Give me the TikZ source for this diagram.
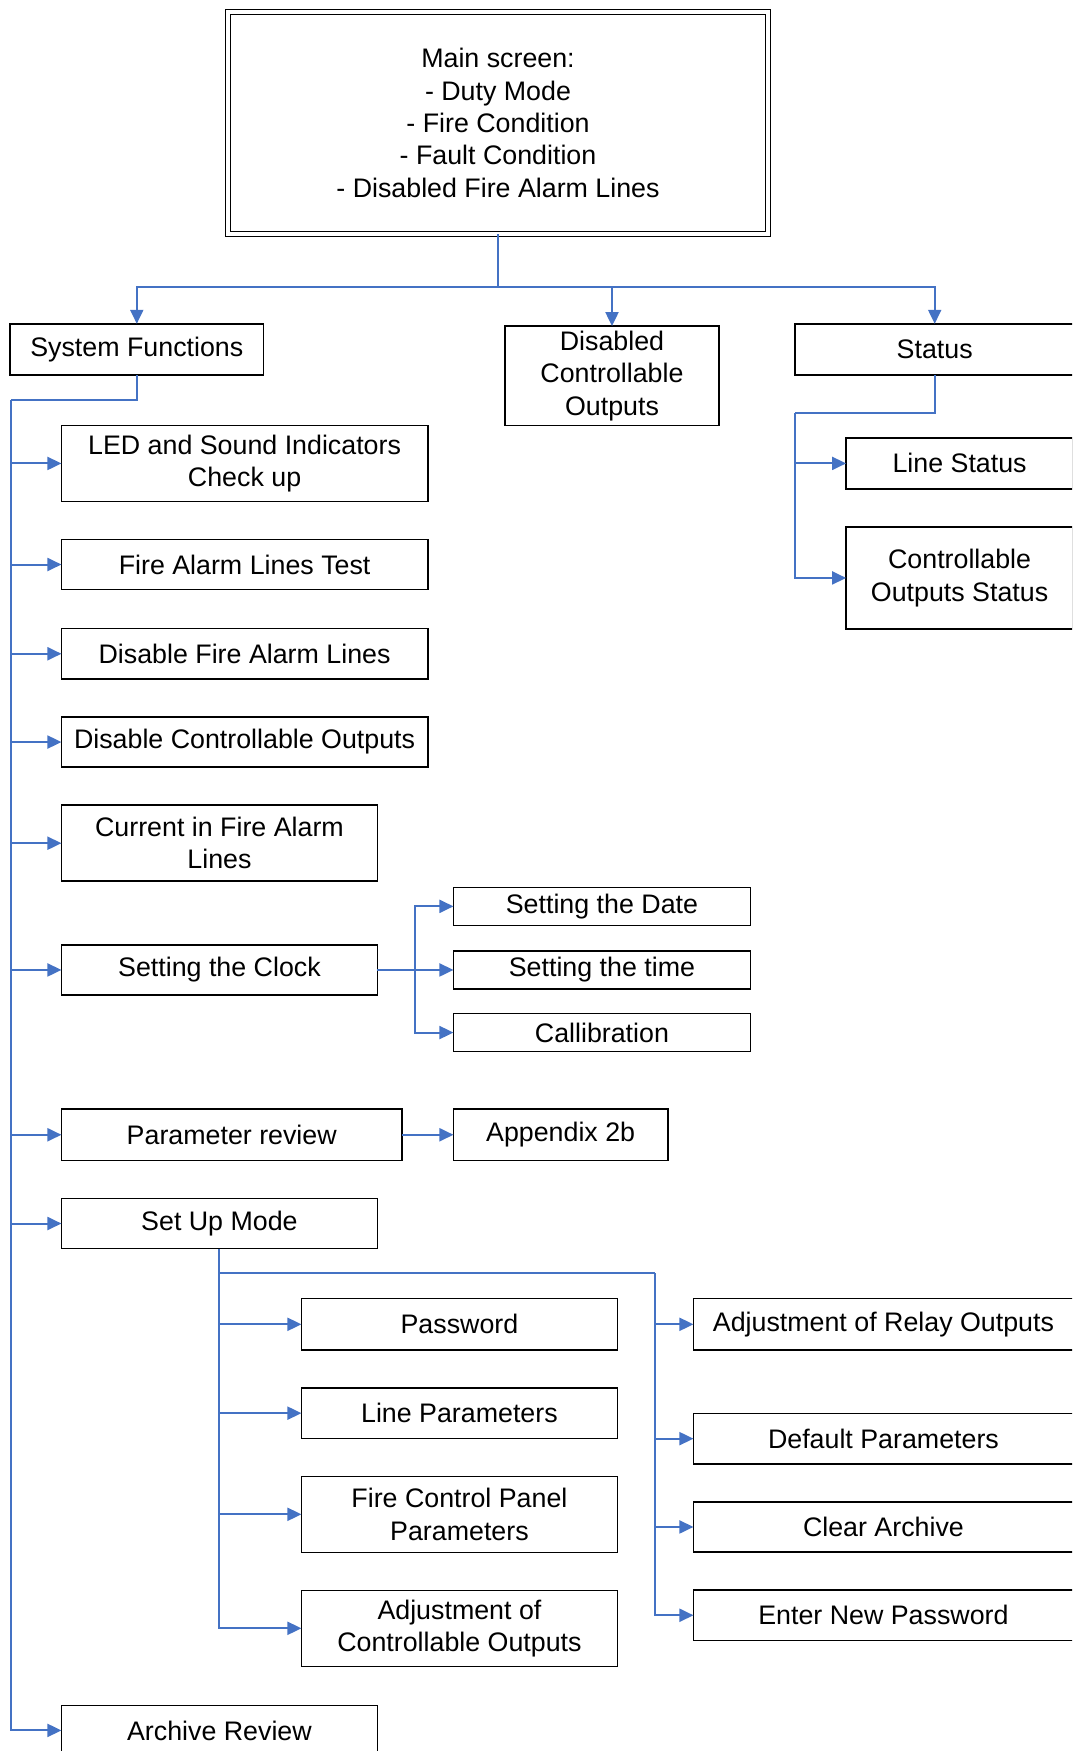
\documentclass[tikz,border=0pt]{standalone}
\usepackage{fontspec}
\setmainfont{Liberation Sans}
\usetikzlibrary{arrows.meta,positioning}
\definecolor{linkblue}{RGB}{68,114,196}
\tikzset{
  box/.style={draw,line width=0.8pt,inner sep=1pt,outer sep=0pt,align=center,font=\fontsize{13.4}{16.2}\selectfont},
  link/.style={draw=linkblue,line width=1pt,-{Triangle[length=7pt,width=6.5pt]}},
  bus/.style={draw=linkblue,line width=1pt}
}

\begin{document}
\begin{tikzpicture}
  \useasboundingbox (0,0) rectangle (536pt,-875.5pt);
  \clip (0,0) rectangle (536pt,-875.5pt);

  \node[box,double,line width=0.6pt,double distance=1.8pt,minimum width=270pt,minimum height=111pt] (main) at (249pt,-61.5pt)
    {Main screen:\\- Duty Mode\\- Fire Condition\\- Fault Condition\\- Disabled Fire Alarm Lines};
  \node[box,minimum width=126.75pt,minimum height=25.7pt] (sysfn) at (68.4pt,-174.75pt) {System Functions};
  \node[box,minimum width=107.2pt,minimum height=49.7pt] (disabled) at (306pt,-187.9pt) {Disabled\\Controllable\\Outputs};
  \node[box,minimum width=140pt,minimum height=25.7pt] (status) at (467.35pt,-174.75pt) {Status};

  \node[box,minimum width=113.5pt,minimum height=25.7pt,below right=31.25pt and 25.7pt of status.south west] (lstat) {Line Status};
  \node[box,minimum width=113.5pt,minimum height=50.85pt,below right=19pt and 0pt of lstat.south west] (cstat) {Controllable\\Outputs Status};

  \node[box,minimum width=183.15pt,minimum height=37.95pt,below right=25.15pt and 25.7pt of sysfn.south west] (led) {LED and Sound Indicators\\Check up};
  \node[box,minimum width=183.15pt,minimum height=25.1pt,below right=19pt and 0pt of led.south west] (faltest) {Fire Alarm Lines Test};
  \node[box,minimum width=183.15pt,minimum height=25.15pt,below right=19.5pt and 0pt of faltest.south west] (disfal) {Disable Fire Alarm Lines};
  \node[box,minimum width=183.15pt,minimum height=25.15pt,below right=19pt and 0pt of disfal.south west] (disco) {Disable Controllable Outputs};
  \node[box,minimum width=158pt,minimum height=38pt,below right=19pt and 0pt of disco.south west] (current) {Current in Fire Alarm\\Lines};
  \node[box,minimum width=158pt,minimum height=25.15pt,below right=31.8pt and 0pt of current.south west] (clock) {Setting the Clock};
  \node[box,minimum width=170.3pt,minimum height=25.65pt,below right=57pt and 0pt of clock.south west] (param) {Parameter review};
  \node[box,minimum width=158pt,minimum height=25.1pt,below right=19pt and 0pt of param.south west] (setup) {Set Up Mode};
  \node[box,minimum width=158pt,minimum height=25pt,below right=228.4pt and 0pt of setup.south west] (archive) {Archive Review};

  \node[box,minimum width=148.5pt,minimum height=19pt,right=38pt of clock] (time) {Setting the time};
  \node[box,minimum width=148.5pt,minimum height=19pt,above=12.8pt of time] (date) {Setting the Date};
  \node[box,minimum width=148.5pt,minimum height=19pt,below=12.3pt of time] (calib) {Callibration};
  \node[box,minimum width=107.2pt,minimum height=25.65pt,right=25.7pt of param] (appendix) {Appendix 2b};

  \node[box,minimum width=158pt,minimum height=25.7pt,below right=25pt and 120pt of setup.south west] (pw) {Password};
  \node[box,minimum width=158pt,minimum height=25.15pt,below right=19pt and 0pt of pw.south west] (linep) {Line Parameters};
  \node[box,minimum width=158pt,minimum height=38pt,below right=19pt and 0pt of linep.south west] (fcp) {Fire Control Panel\\Parameters};
  \node[box,minimum width=158pt,minimum height=38pt,below right=19pt and 0pt of fcp.south west] (adjco) {Adjustment of\\Controllable Outputs};
  \node[box,minimum width=190pt,minimum height=25.7pt,right=38pt of pw] (relay) {Adjustment of Relay Outputs};
  \node[box,minimum width=190pt,minimum height=25.15pt,below right=31.75pt and 0pt of relay.south west] (defp) {Default Parameters};
  \node[box,minimum width=190pt,minimum height=25.15pt,below right=19pt and 0pt of defp.south west] (cleararch) {Clear Archive};
  \node[box,minimum width=190pt,minimum height=25.15pt,below right=19pt and 0pt of cleararch.south west] (newpw) {Enter New Password};

  \coordinate (mainbus) at ([yshift=-26.5pt]main.south);
  \draw[bus] (main) -- (mainbus);
  \foreach \n in {sysfn,disabled,status}
    \draw[link] (mainbus) -| (\n);

  \coordinate (statfork) at ([yshift=-19pt]status.south west);
  \draw[bus] (status) -- (status |- statfork) -- (statfork);
  \foreach \n in {lstat,cstat}
    \draw[link] (statfork) |- (\n);

  \coordinate (sysfork) at ([xshift=0.6pt,yshift=-12.3pt]sysfn.south west);
  \draw[bus] (sysfn) -- (sysfn |- sysfork) -- (sysfork);
  \foreach \n in {led,faltest,disfal,disco,current,clock,param,setup,archive}
    \draw[link] (sysfork) |- (\n);

  \draw[link] (clock) -- (time);
  \draw[link] (clock.east) -- ++(19pt,0) |- (date);
  \draw[link] (clock.east) -- ++(19pt,0) |- (calib);
  \draw[link] (param) -- (appendix);

  \coordinate (setupbus) at ([yshift=-12.2pt]setup.south);
  \coordinate (setupfork) at ([xshift=-19pt]relay.west |- setupbus);
  \draw[bus] (setup) -- (setupbus) -- (setupfork);
  \foreach \n in {pw,linep,fcp,adjco}
    \draw[link] (setupbus) |- (\n);
  \foreach \n in {relay,defp,cleararch,newpw}
    \draw[link] (setupfork) |- (\n);
\end{tikzpicture}
\end{document}
